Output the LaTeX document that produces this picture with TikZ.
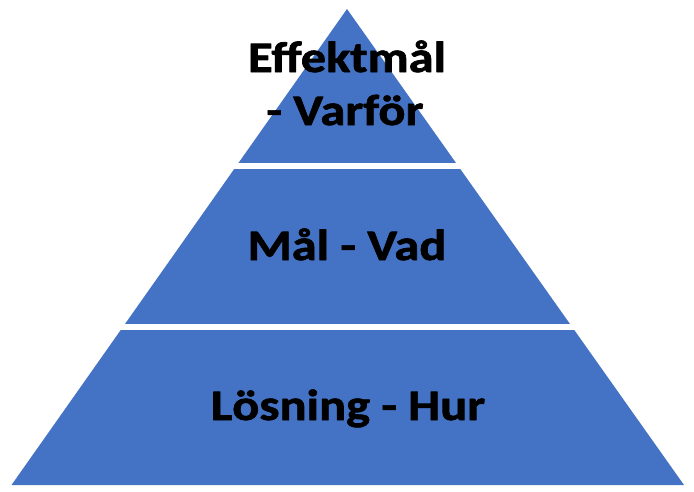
\documentclass[tikz,border=0pt]{standalone}
\usepackage{fontspec}
\setmainfont{Carlito}[FakeStretch=1.16,BoldFeatures={FakeBold=1.6}]
\usepackage{xcolor}
\usetikzlibrary{calc}
\definecolor{pyrblue}{HTML}{4472C4}
\tikzset{lager/.style={fill=pyrblue,draw=none},
  glapp/.style={fill=white,draw=none},
  rubrik/.style={font=\bfseries\fontsize{43.5}{53}\selectfont,text=black,anchor=base,inner sep=0pt}}

\begin{document}
\begin{tikzpicture}[line cap=round,line join=round,x=1pt,y=-1pt]
                \useasboundingbox (0,0) rectangle (694,491);
                \coordinate (topp) at (347,9);
                \coordinate (vbas) at (11.5,485);
                \coordinate (hbas) at (684,485);
                \fill [lager] (topp) -- (hbas) -- (vbas) -- cycle;
                % vita mellanrum mellan lagren
                \fill [glapp] (0,162.5) rectangle (694,168.5);
                \fill [glapp] (0,324) rectangle (694,330);
                \node [rubrik] (effekt) at (347,72) {Effektmål};
                \node [rubrik] (varfor) at (345,125) {- Varför};
                \node [rubrik] (mal) at (347,260) {Mål - Vad};
                \node [rubrik] (losning) at (348,420) {Lösning - Hur};
\end{tikzpicture}
\end{document}
